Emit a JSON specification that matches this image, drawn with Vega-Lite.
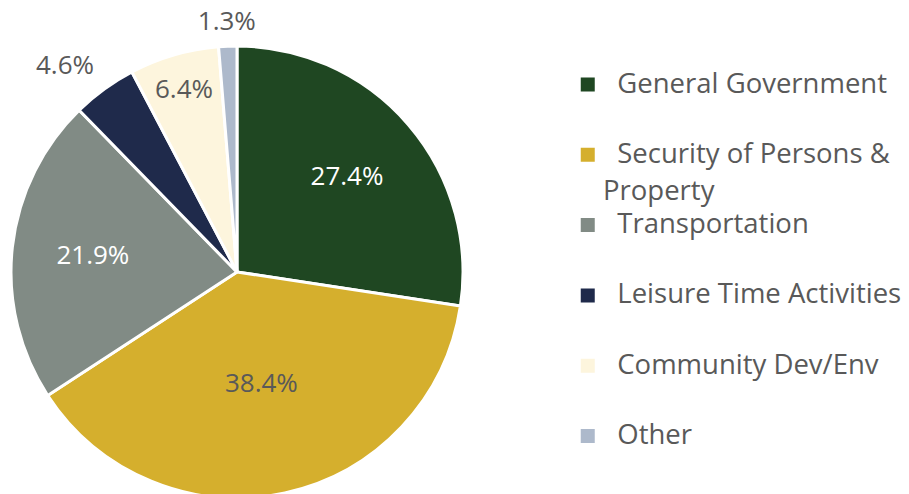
{
  "$schema": "https://vega.github.io/schema/vega-lite/v6.json",
  "width": 474,
  "height": 544,
  "padding": 0,
  "background": "white",
  "config": {
    "view": {"stroke": null},
    "font": "Open Sans",
    "style": {"guide-label": {"lineHeight": 37}}
  },
  "data": {
    "values": [
      {"idx": 1, "category": "General Government", "share": 0.274},
      {"idx": 2, "category": "Security of Persons & Property", "share": 0.384},
      {"idx": 3, "category": "Transportation", "share": 0.219},
      {"idx": 4, "category": "Leisure Time Activities", "share": 0.046},
      {"idx": 5, "category": "Community Dev/Env", "share": 0.064},
      {"idx": 6, "category": "Other", "share": 0.013}
    ]
  },
  "encoding": {
    "theta": {"field": "share", "type": "quantitative", "stack": true},
    "order": {"field": "idx", "type": "quantitative"}
  },
  "layer": [
    {
      "mark": {"type": "arc", "radius": 226, "stroke": "white", "strokeWidth": 3},
      "encoding": {
        "color": {
          "field": "category",
          "type": "nominal",
          "scale": {
            "domain": ["General Government", "Security of Persons & Property", "Transportation", "Leisure Time Activities", "Community Dev/Env", "Other"],
            "range": ["#1F4722", "#D5AF2D", "#818B85", "#1F2A4B", "#FDF5DD", "#ADB9CB"]
          },
          "legend": {
            "orient": "none",
            "legendX": 574,
            "legendY": 69.5,
            "padding": 0,
            "title": null,
            "symbolType": "square",
            "symbolSize": 196,
            "symbolStrokeWidth": 0,
            "labelFont": "Open Sans",
            "labelFontSize": 27.5,
            "labelColor": "#595959",
            "labelOffset": 1.5,
            "labelLimit": 0,
            "gridAlign": "all",
            "rowPadding": 4.3,
            "clipHeight": 30,
            "labelExpr": "datum.label == 'Security of Persons & Property' ? ['\u200b\u00a0\u00a0Security of Persons &', 'Property'] : ['\u200b\u00a0\u00a0' + datum.label, '']",
            "encode": {
              "labels": {
                "update": {
                  "lineHeight": {"value": 37}
                }
              }
            }
          }
        }
      }
    },
    {
      "mark": {
        "type": "text",
        "font": "Open Sans",
        "fontSize": 26,
        "radius": {"expr": "datum.share < 0.02 ? 250 : datum.share < 0.05 ? 268 : datum.share < 0.1 ? 190 : datum.share > 0.3 ? 115 : 145"},
        "dx": {"expr": "datum.share > 0.02 && datum.share < 0.05 ? -14.5 : 0"},
        "dy": {"expr": "datum.share > 0.02 && datum.share < 0.05 ? 11 : 0"}
      },
      "encoding": {
        "text": {"field": "share", "type": "quantitative", "format": ".1%"},
        "color": {
          "condition": {"test": "datum.category == 'General Government' || datum.category == 'Transportation'", "value": "white"},
          "value": "#595959"
        }
      }
    }
  ]
}
